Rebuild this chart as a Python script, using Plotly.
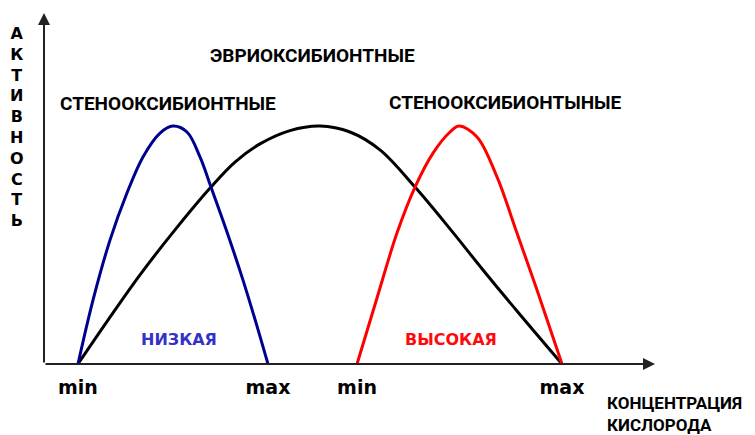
import plotly.graph_objects as go

# Oxygen concentration (x, % of axis) and activity (y, % of axis)
steno_low_x = [5.56, 8.02, 10.80, 13.58, 16.20, 18.99, 21.11, 23.40, 25.53, 27.33, 29.95, 32.57, 34.86, 36.66]
steno_low_y = [0, 18.2, 35.3, 48.7, 59.0, 65.8, 67.8, 66.1, 59.0, 50.4, 37.6, 23.9, 10.8, 0]

eury_x = [5.56, 10.47, 15.71, 21.44, 27.33, 31.26, 35.35, 40.26, 45.17, 50.08, 54.99, 60.72, 66.45, 71.85, 77.41, 84.78]
eury_y = [0, 12.5, 25.4, 38.2, 50.4, 57.5, 62.7, 66.5, 67.8, 66.1, 61.0, 50.4, 38.5, 26.8, 15.1, 0]

steno_high_x = [51.23, 54.50, 57.77, 60.72, 63.67, 66.45, 67.92, 70.87, 74.14, 77.41, 80.69, 84.78]
steno_high_y = [0, 18.8, 37.3, 50.4, 60.1, 66.1, 67.8, 64.7, 53.3, 37.3, 21.1, 0]

tick_vals = [5.56, 36.66, 51.23, 84.78]
tick_text = ["min", "max", "min", "max"]

BOLD_WIDE = "Verdana, DejaVu Sans, sans-serif"
BOLD_NARROW = "Roboto, Liberation Sans, sans-serif"

fig = go.Figure()
for xs, ys, col in [(eury_x, eury_y, "#000000"),
                    (steno_low_x, steno_low_y, "#00008F"),
                    (steno_high_x, steno_high_y, "#FF0000")]:
    fig.add_trace(go.Scatter(x=xs, y=ys, mode="lines",
                             line=dict(color=col, width=3, shape="spline", smoothing=1.0),
                             hoverinfo="skip", showlegend=False))

# axes drawn as arrows
arrow = dict(showarrow=True, arrowhead=2, arrowsize=1.2, arrowwidth=2,
             arrowcolor="#222222", axref="x", ayref="y", text="")
fig.add_annotation(x=100, y=0, ax=0, ay=0, **arrow)
fig.add_annotation(x=0, y=100, ax=0, ay=0, **arrow)

def label(text, x, y, size, color="#000000", family=BOLD_NARROW, paper=False, **kw):
    refs = dict(xref="paper", yref="paper") if paper else {}
    fig.add_annotation(x=x, y=y, text="<b>%s</b>" % text, showarrow=False,
                       font=dict(family=family, size=size, color=color), **refs, **kw)

label("ЭВРИОКСИБИОНТНЫЕ", 44.0, 87.9, 19)
label("СТЕНООКСИБИОНТНЫЕ", 20.3, 74.2, 19)
label("СТЕНООКСИБИОНТЫНЫЕ", 75.6, 74.4, 19)
label("НИЗКАЯ", 22.1, 7.0, 16, color="#3232C8", family=BOLD_WIDE)
label("ВЫСОКАЯ", 66.6, 7.0, 16, color="#FF0A0A", family=BOLD_WIDE)

# axis titles sit outside the plotting area
label("КОНЦЕНТРАЦИЯ<br>КИСЛОРОДА", 0.918, -0.1108, 17, paper=True,
      xanchor="left", yanchor="middle", align="left")
label("<br>".join("АКТИВНОСТЬ"), -0.0442, 0.684, 16, family=BOLD_WIDE, paper=True,
      xanchor="center", yanchor="middle")

fig.update_layout(
    width=755, height=435,
    margin=dict(l=44, r=100, t=13, b=61),
    paper_bgcolor="white", plot_bgcolor="white",
    xaxis=dict(range=[0, 100], showgrid=False, zeroline=False, showline=False,
               tickvals=tick_vals, ticktext=["<b>%s</b>" % t for t in tick_text], ticks="",
               tickfont=dict(family=BOLD_WIDE, size=19, color="#000000"),
               fixedrange=True),
    yaxis=dict(range=[-2.849, 100], showgrid=False, zeroline=False, showline=False,
               showticklabels=False, fixedrange=True),
)

fig.write_html("out.html")
